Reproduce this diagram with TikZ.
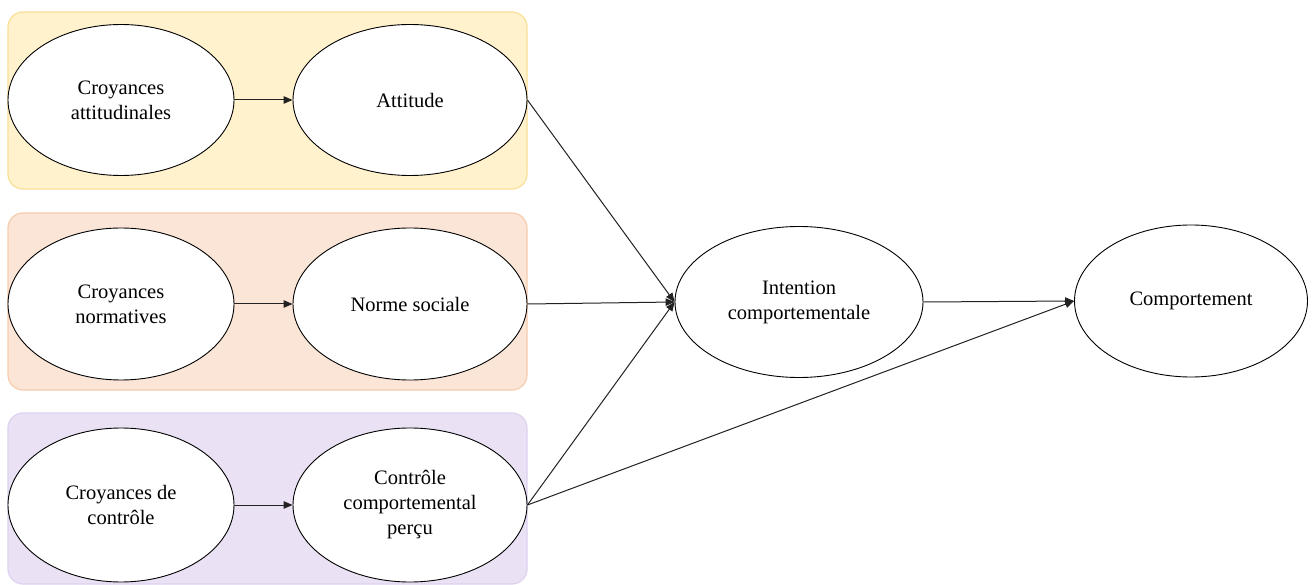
\documentclass[tikz,border=0pt]{standalone}
\usepackage{fontspec}
\setmainfont{Liberation Serif}
\usetikzlibrary{shapes.geometric,arrows.meta}
\definecolor{yfill}{HTML}{FFF2CC}
\definecolor{ydraw}{HTML}{F9DF96}
\definecolor{ofill}{HTML}{FBE5D6}
\definecolor{odraw}{HTML}{F6CCAE}
\definecolor{pfill}{HTML}{EAE2F4}
\definecolor{pdraw}{HTML}{DDD2F0}
\definecolor{lc}{HTML}{222222}
\tikzset{
  group/.style={rounded corners=15pt, line width=1.2pt},
  ell/.style={ellipse, draw=black, fill=white, line width=0.9pt, inner sep=0pt,
    align=center, font=\fontsize{20.5}{25}\selectfont},
  conn/.style={draw=lc, line width=1pt, -{Triangle[length=9pt,width=7.5pt]}},
}
\begin{document}
\begin{tikzpicture}[x=1pt,y=-1pt]
\useasboundingbox (0,0) rectangle (1312,585);
\fill[white] (0,0) rectangle (1312,585);
% group boxes
\draw[group, fill=yfill, draw=ydraw] (8,12) rectangle (527,189);
\draw[group, fill=ofill, draw=odraw] (8,213) rectangle (527,390);
\draw[group, fill=pfill, draw=pdraw] (8,413) rectangle (527,584);
% nodes
\node[ell, minimum width=226pt, minimum height=151pt] (ca) at (121,100) {Croyances\\attitudinales};
\node[ell, minimum width=234pt, minimum height=151pt] (att) at (410,100) {Attitude};
\node[ell, minimum width=226pt, minimum height=152pt] (cn) at (121,304) {Croyances\\normatives};
\node[ell, minimum width=234pt, minimum height=152pt] (ns) at (410,304) {Norme sociale};
\node[ell, minimum width=226pt, minimum height=154pt] (cc) at (121,505) {Croyances de\\contrôle};
\node[ell, minimum width=234pt, minimum height=154pt] (ccp) at (410,505) {Contrôle\\comportemental\\perçu};
\node[ell, minimum width=248pt, minimum height=151pt] (int) at (799,302) {Intention\\comportementale};
\node[ell, minimum width=233pt, minimum height=152pt] (comp) at (1191,301) {Comportement};
% connectors
\draw[conn] (ca.east) -- (att.west);
\draw[conn] (cn.east) -- (ns.west);
\draw[conn] (cc.east) -- (ccp.west);
\draw[conn] (att.east) -- (int.west);
\draw[conn] (ns.east) -- (int.west);
\draw[conn] (ccp.east) -- (int.west);
\draw[conn] (ccp.east) -- (comp.west);
\draw[conn] (int.east) -- (comp.west);
\end{tikzpicture}
\end{document}
